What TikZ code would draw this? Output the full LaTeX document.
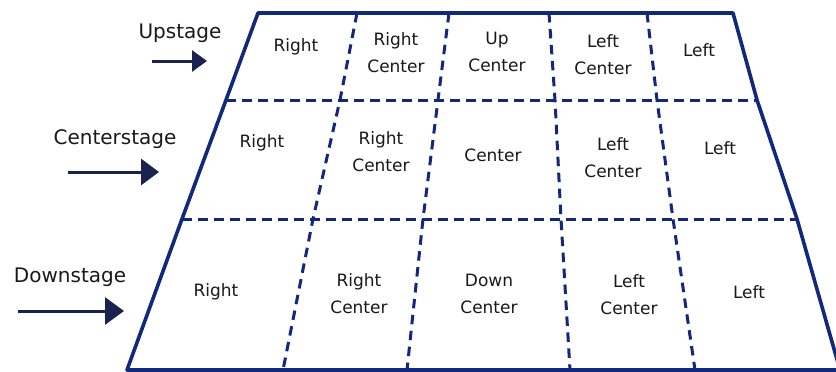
\documentclass[tikz,border=0pt]{standalone}
\usepackage{fontspec}
\setmainfont{DejaVu Sans}
\usetikzlibrary{arrows.meta}

\definecolor{stageblue}{RGB}{18,40,125}
\definecolor{arrowblue}{RGB}{26,34,80}
\definecolor{inkgray}{RGB}{25,25,25}

\begin{document}
\begin{tikzpicture}[
every node/.style={font=\fontsize{17}{27}\selectfont, align=center, text=inkgray},
x=1pt,
y=-1pt,
edge/.style={stageblue, line width=3.6pt, line join=round},
gridline/.style={stageblue, line width=3pt, dash pattern=on 9.5pt off 6.5pt},
pointer/.style={arrowblue, line width=3pt},
side/.style={font=\fontsize{20}{22}\selectfont}
]
\useasboundingbox (0,0) rectangle (836,372);
\clip (0,0) rectangle (836,372);

% crossing points, back row
\coordinate (a0) at (258,13);
\coordinate (a1) at (357,13);
\coordinate (a2) at (449,13);
\coordinate (a3) at (549,13);
\coordinate (a4) at (647,13);
\coordinate (a5) at (733,13);

% first dashed row
\coordinate (b0) at (226,100);
\coordinate (b1) at (340,100);
\coordinate (b2) at (438,100);
\coordinate (b3) at (555,100);
\coordinate (b4) at (657,100);
\coordinate (b5) at (757,100);

% second dashed row
\coordinate (c0) at (182,219);
\coordinate (c1) at (313,219);
\coordinate (c2) at (423,219);
\coordinate (c3) at (561,219);
\coordinate (c4) at (673,219);
\coordinate (c5) at (797,219);

% front row
\coordinate (d0) at (127,370);
\coordinate (d1) at (283,370);
\coordinate (d2) at (407,370);
\coordinate (d3) at (570,370);
\coordinate (d4) at (695,370);
\coordinate (d5) at (840,370);

% dashed grid
\draw[gridline] (b0) -- (b5);
\draw[gridline] (c0) -- (c5);
\draw[gridline] (a1) -- (b1) -- (c1) -- (d1);
\draw[gridline] (a2) -- (b2) -- (c2) -- (d2);
\draw[gridline] (a3) -- (b3) -- (c3) -- (d3);
\draw[gridline] (a4) -- (b4) -- (c4) -- (d4);

% stage outline
\draw[edge] (a0) -- (a5) -- (b5) -- (c5) -- (d5) -- (d0) -- (c0) -- (b0) -- cycle;

% upstage row
\node (upR) at (296,47) {Right};
\node (upRC) at (396,53) {Right\\Center};
\node (upUC) at (497,52) {Up\\Center};
\node (upLC) at (603,55) {Left\\Center};
\node (upL) at (699,50) {Left};

% centerstage row
\node (ctR) at (262,143) {Right};
\node (ctRC) at (381,152) {Right\\Center};
\node (ctC) at (493,155) {Center};
\node (ctLC) at (613,158) {Left\\Center};
\node (ctL) at (720,148) {Left};

% downstage row
\node (dnR) at (216,292) {Right};
\node (dnRC) at (359,294) {Right\\Center};
\node (dnDC) at (489,294) {Down\\Center};
\node (dnLC) at (629,295) {Left\\Center};
\node (dnL) at (749,292) {Left};

% side labels
\node[side] (upstage) at (180,33) {Upstage};
\node[side] (centerstage) at (115,139) {Centerstage};
\node[side] (downstage) at (70,277) {Downstage};

\coordinate (upTail) at (152,61);
\coordinate (upHead) at (207,61);
\coordinate (ctTail) at (68,172);
\coordinate (ctHead) at (159,172);
\coordinate (dnTail) at (18,311);
\coordinate (dnHead) at (124,311);

\draw[pointer, -{Triangle[length=15pt,width=21pt]}] (upTail) -- (upHead);
\draw[pointer, -{Triangle[length=18pt,width=26pt]}] (ctTail) -- (ctHead);
\draw[pointer, -{Triangle[length=19pt,width=27pt]}] (dnTail) -- (dnHead);

\end{tikzpicture}
\end{document}
